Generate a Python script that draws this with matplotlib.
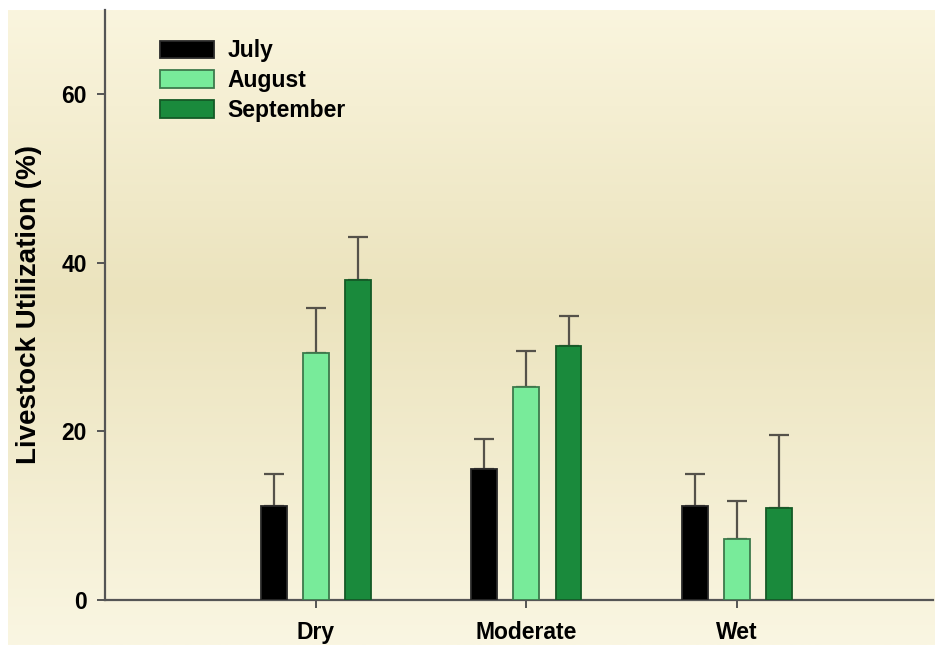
import matplotlib.pyplot as plt
import numpy as np
from matplotlib.colors import LinearSegmentedColormap

plt.rcParams['font.family'] = ['Liberation Sans', 'DejaVu Sans']
plt.rcParams['font.weight'] = 'bold'

# data
sites = ['Dry', 'Moderate', 'Wet']
months = ['July', 'August', 'September']
july = [11.2, 15.6, 11.2]
august = [29.3, 25.3, 7.2]
september = [38.0, 30.1, 10.9]
july_err = [3.7, 3.5, 3.8]
august_err = [5.3, 4.3, 4.6]
september_err = [5.1, 3.6, 8.7]

values = [july, august, september]
errors = [july_err, august_err, september_err]
colors = ['#000000', '#78eb9a', '#1a8a3c']
edges = ['#2a2a2a', '#3d7a4c', '#145a26']

W, H = 935, 646
fig = plt.figure(figsize=(W / 100, H / 100), dpi=100)
fig.patch.set_facecolor('white')

# cream gradient backdrop
bg = fig.add_axes([8 / W, 1 / H, 1 - 8 / W, (H - 11) / H])
bg.set_axis_off()
cmap = LinearSegmentedColormap.from_list(
    'cream', [(0.0, '#faf5de'), (0.45, '#ebe3bd'), (1.0, '#faf6e2')])
grad = np.linspace(0, 1, 256).reshape(-1, 1)
bg.imshow(grad, aspect='auto', cmap=cmap, extent=[0, 1, 1, 0])
bg.set_zorder(0)

ax = fig.add_axes([105 / W, 46 / H, (933 - 105) / W, (600 - 10) / H])
ax.set_zorder(1)
ax.patch.set_alpha(0)

x = np.arange(1, len(sites) + 1)
width = 0.123
offsets = [-0.2, 0.0, 0.2]
for vals, errs, c, ec, off, lab in zip(values, errors, colors, edges, offsets, months):
    ax.bar(x + off, vals, width, color=c, edgecolor=ec, linewidth=1.3, label=lab, zorder=3)
    ax.errorbar(x + off, vals, yerr=[np.zeros(len(errs)), errs], fmt='none',
                ecolor='#55524a', elinewidth=1.6, capsize=7, capthick=1.6, zorder=2)

ax.set_xlim(0, 3.93)
ax.set_ylim(0, 70)
ax.set_yticks([0, 20, 40, 60])
ax.set_xticks(x)
ax.set_xticklabels(sites)

for side in ['top', 'right']:
    ax.spines[side].set_visible(False)
for side in ['left', 'bottom']:
    ax.spines[side].set_color('#555555')
    ax.spines[side].set_linewidth(1.6)

ax.tick_params(axis='both', direction='out', length=6, width=1.4, color='#555555',
               labelsize=16.5, pad=7)
ax.tick_params(axis='x', pad=9)
ax.set_ylabel('Livestock Utilization (%)', fontsize=20, fontweight='bold', labelpad=14)

ax.legend(loc='upper left', bbox_to_anchor=(0.055, 0.966), frameon=False, fontsize=16.5,
          handlelength=2.36, handleheight=0.79, handletextpad=0.6, labelspacing=0.3,
          borderaxespad=0)

fig.savefig('out.png', dpi=100)
